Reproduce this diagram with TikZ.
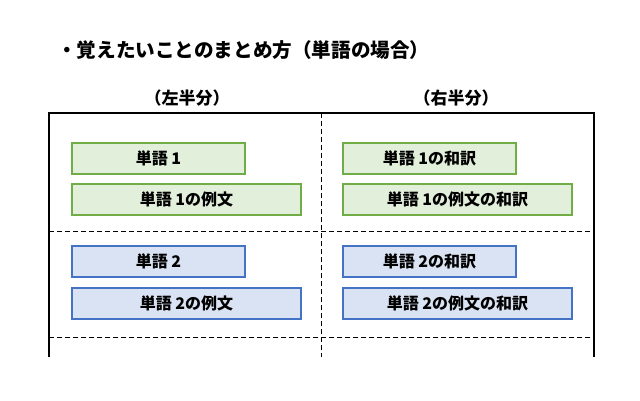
\documentclass[tikz,border=0pt]{standalone}
\usepackage{fontspec}
\newfontfamily\jp{Noto Sans CJK JP}
\definecolor{boxgreen}{HTML}{70AD47}
\definecolor{fillgreen}{HTML}{E2EFDA}
\definecolor{boxblue}{HTML}{4472C4}
\definecolor{fillblue}{HTML}{DAE3F3}

\begin{document}
\begin{tikzpicture}[x=1pt, y=-1pt,
    wordbox/.style={draw, line width=2pt, minimum height=31pt, anchor=north west,
      inner sep=0pt, font=\jp\bfseries\fontsize{16}{18}\selectfont},
    greenbox/.style={wordbox, draw=boxgreen, fill=fillgreen},
    bluebox/.style={wordbox, draw=boxblue, fill=fillblue},
    frame/.style={line width=1.5pt},
    divider/.style={line width=1pt, dash pattern=on 5pt off 3pt}]
  \useasboundingbox (0,0) rectangle (640,401);
  \node[anchor=west, inner sep=0pt, font=\jp\bfseries\fontsize{19.6}{22}\selectfont] (title) at (57,50)
    {・覚えたいことのまとめ方（単語の場合）};
  \node[font=\jp\bfseries\fontsize{17}{19}\selectfont] (lefthead) at (187,98) {（左半分）};
  \node[font=\jp\bfseries\fontsize{17}{19}\selectfont] (righthead) at (456,98) {（右半分）};
  % table
  \draw[frame] (49,357) -- (49,113) -- (594,113) -- (594,357);
  \draw[divider] (321,113) -- (321,357);
  \draw[divider] (49,231) -- (594,231);
  \draw[divider] (49,337) -- (594,337);
  % word 1
  \node[greenbox, minimum width=173pt] (wordA) at (71,142) {単語 1};
  \node[greenbox, minimum width=229pt] (exA) at (71,183) {単語 1の例文};
  \node[greenbox, minimum width=173pt] (wordAtr) at (342,142) {単語 1の和訳};
  \node[greenbox, minimum width=229pt] (exAtr) at (342,183) {単語 1の例文の和訳};
  % word 2
  \node[bluebox, minimum width=173pt] (wordB) at (71,245) {単語 2};
  \node[bluebox, minimum width=229pt] (exB) at (71,287) {単語 2の例文};
  \node[bluebox, minimum width=173pt] (wordBtr) at (342,245) {単語 2の和訳};
  \node[bluebox, minimum width=229pt] (exBtr) at (342,287) {単語 2の例文の和訳};
\end{tikzpicture}
\end{document}
